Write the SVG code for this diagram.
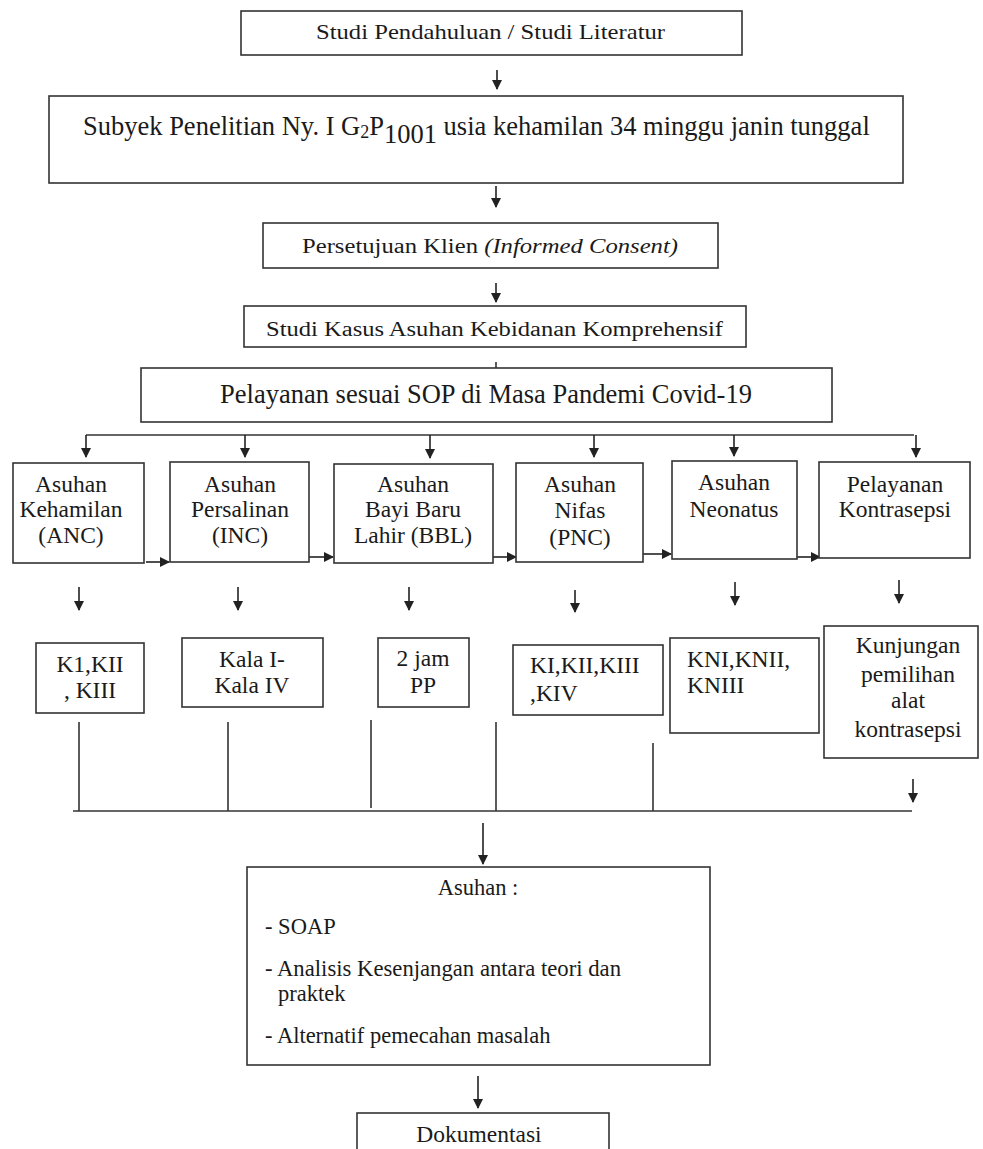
<svg xmlns="http://www.w3.org/2000/svg" width="983" height="1149" viewBox="0 0 983 1149">
<defs>
<marker id="ah" markerUnits="userSpaceOnUse" markerWidth="10" markerHeight="10" refX="9" refY="5" orient="auto" viewBox="0 0 10 10">
<path d="M0,0 L10,5 L0,10 z" fill="#222"/>
</marker>
<style>
.box{fill:#fff;stroke:#333;stroke-width:1.6}
.t{font-family:"Liberation Serif","Times New Roman",serif;fill:#1a1a1a}
.m{text-anchor:middle}
.f20{font-size:20.5px}
.f21{font-size:21px}
.f26{font-size:26.5px}
.f23{font-size:23.5px}
.f22{font-size:22.5px}
.ln{fill:none;stroke:#333;stroke-width:1.6}
.ar{fill:none;stroke:#222;stroke-width:1.6;marker-end:url(#ah)}
</style>
</defs>
<rect width="983" height="1149" fill="#fff"/>

<g id="connectors">
<line class="ar" x1="497" y1="70" x2="497" y2="89"/>
<line class="ar" x1="496" y1="186" x2="496" y2="207"/>
<line class="ar" x1="496" y1="283" x2="496" y2="302"/>
<line class="ln" x1="496" y1="362" x2="496" y2="368" stroke-width="1"/>
<path class="ln" d="M86,435 H914"/>
<line class="ar" x1="86" y1="435" x2="86" y2="457"/>
<line class="ar" x1="245" y1="435" x2="245" y2="457"/>
<line class="ar" x1="430" y1="435" x2="430" y2="458"/>
<line class="ar" x1="594" y1="435" x2="594" y2="457"/>
<line class="ar" x1="734" y1="435" x2="734" y2="456"/>
<line class="ar" x1="916" y1="435" x2="916" y2="457"/>
<line class="ar" x1="146" y1="562" x2="169" y2="562"/>
<line class="ar" x1="309" y1="557" x2="333" y2="557"/>
<line class="ar" x1="493" y1="557" x2="516" y2="557"/>
<line class="ar" x1="643" y1="554" x2="671" y2="554"/>
<line class="ar" x1="797" y1="557" x2="820" y2="557"/>
<line class="ar" x1="79" y1="587" x2="79" y2="610"/>
<line class="ar" x1="238" y1="587" x2="238" y2="610"/>
<line class="ar" x1="409" y1="587" x2="409" y2="610"/>
<line class="ar" x1="575" y1="590" x2="575" y2="612"/>
<line class="ar" x1="735" y1="582" x2="735" y2="605"/>
<line class="ar" x1="899" y1="580" x2="899" y2="603"/>
<line class="ln" x1="79" y1="722" x2="79" y2="811"/>
<line class="ln" x1="228" y1="722" x2="228" y2="811"/>
<line class="ln" x1="371" y1="720" x2="371" y2="808"/>
<line class="ln" x1="496" y1="722" x2="496" y2="811"/>
<line class="ln" x1="653" y1="743" x2="653" y2="811"/>
<path class="ln" d="M73,811 H912"/>
<line class="ar" x1="913" y1="779" x2="913" y2="802"/>
<line class="ar" x1="483" y1="823" x2="483" y2="864"/>
<line class="ar" x1="478" y1="1076" x2="478" y2="1108"/>
</g>

<g id="studi-pendahuluan">
<rect class="box" x="241" y="11" width="501" height="44"/>
<text class="t f21" x="316" y="39" textLength="349" lengthAdjust="spacingAndGlyphs">Studi Pendahuluan / Studi Literatur</text>
</g>

<g id="subyek">
<rect class="box" x="49" y="96" width="854" height="87"/>
<text class="t f26" x="83" y="135" fill="#000">Subyek Penelitian Ny. I G<tspan font-size="18" dy="3">2</tspan><tspan dy="-3">P</tspan><tspan dy="8">1001</tspan><tspan dy="-8"> usia kehamilan 34 minggu janin tunggal</tspan></text>
</g>

<g id="persetujuan">
<rect class="box" x="263" y="223" width="455" height="45"/>
<text class="t f20" x="302" y="253" textLength="376" lengthAdjust="spacingAndGlyphs">Persetujuan Klien <tspan font-style="italic">(Informed Consent)</tspan></text>
</g>

<g id="studi-kasus">
<rect class="box" x="244" y="306" width="502" height="41"/>
<text class="t f20" x="266" y="336" textLength="457" lengthAdjust="spacingAndGlyphs">Studi Kasus Asuhan Kebidanan Komprehensif</text>
</g>

<g id="pelayanan-sop">
<rect class="box" x="141" y="368" width="691" height="54"/>
<text class="t f26 m" x="486" y="403">Pelayanan sesuai SOP di Masa Pandemi Covid-19</text>
</g>

<g id="anc">
<rect class="box" x="13" y="463" width="131" height="100"/>
<text class="t f23 m" x="71" y="492">Asuhan</text>
<text class="t f23 m" x="71" y="517">Kehamilan</text>
<text class="t f23 m" x="71" y="543">(ANC)</text>
</g>
<g id="inc">
<rect class="box" x="170" y="462" width="139" height="100"/>
<text class="t f23 m" x="240" y="492">Asuhan</text>
<text class="t f23 m" x="240" y="517">Persalinan</text>
<text class="t f23 m" x="240" y="543">(INC)</text>
</g>
<g id="bbl">
<rect class="box" x="334" y="464" width="159" height="99"/>
<text class="t f23 m" x="413" y="492">Asuhan</text>
<text class="t f23 m" x="413" y="517">Bayi Baru</text>
<text class="t f23 m" x="413" y="543">Lahir (BBL)</text>
</g>
<g id="pnc">
<rect class="box" x="516" y="463" width="127" height="99"/>
<text class="t f23 m" x="580" y="492">Asuhan</text>
<text class="t f23 m" x="580" y="518">Nifas</text>
<text class="t f23 m" x="580" y="545">(PNC)</text>
</g>
<g id="neonatus">
<rect class="box" x="672" y="461" width="125" height="98"/>
<text class="t f23 m" x="734" y="490">Asuhan</text>
<text class="t f23 m" x="734" y="517">Neonatus</text>
</g>
<g id="kontrasepsi">
<rect class="box" x="819" y="462" width="151" height="96"/>
<text class="t f23 m" x="895" y="492">Pelayanan</text>
<text class="t f23 m" x="895" y="517">Kontrasepsi</text>
</g>

<g id="k1-kiii">
<rect class="box" x="36" y="643" width="108" height="70"/>
<text class="t f23 m" x="90" y="672">K1,KII</text>
<text class="t f23 m" x="90" y="698">, KIII</text>
</g>
<g id="kala">
<rect class="box" x="182" y="638" width="141" height="69"/>
<text class="t f23 m" x="252" y="667">Kala I-</text>
<text class="t f23 m" x="252" y="693">Kala IV</text>
</g>
<g id="dua-jam">
<rect class="box" x="378" y="638" width="91" height="69"/>
<text class="t f23 m" x="423" y="666">2 jam</text>
<text class="t f23 m" x="423" y="693">PP</text>
</g>
<g id="ki-kiv">
<rect class="box" x="513" y="645" width="150" height="70"/>
<text class="t f23" x="530" y="673">KI,KII,KIII</text>
<text class="t f23" x="530" y="701">,KIV</text>
</g>
<g id="kn">
<rect class="box" x="670" y="638" width="149" height="95"/>
<text class="t f23" x="687" y="667">KNI,KNII,</text>
<text class="t f23" x="687" y="693">KNIII</text>
</g>
<g id="kunjungan">
<rect class="box" x="824" y="626" width="154" height="132"/>
<text class="t f23 m" x="908" y="653">Kunjungan</text>
<text class="t f23 m" x="908" y="682">pemilihan</text>
<text class="t f23 m" x="908" y="708">alat</text>
<text class="t f23 m" x="908" y="737">kontrasepsi</text>
</g>

<g id="asuhan">
<rect class="box" x="247" y="867" width="463" height="198"/>
<text class="t f22 m" x="478" y="895">Asuhan :</text>
<text class="t f22" x="265" y="934">- SOAP</text>
<text class="t f22" x="265" y="976" textLength="356" lengthAdjust="spacingAndGlyphs">- Analisis Kesenjangan antara teori dan</text>
<text class="t f22" x="278" y="1001">praktek</text>
<text class="t f22" x="265" y="1043">- Alternatif pemecahan masalah</text>
</g>

<g id="dokumentasi">
<rect class="box" x="357" y="1113" width="252" height="50"/>
<text class="t f23 m" x="479" y="1142">Dokumentasi</text>
</g>
</svg>
